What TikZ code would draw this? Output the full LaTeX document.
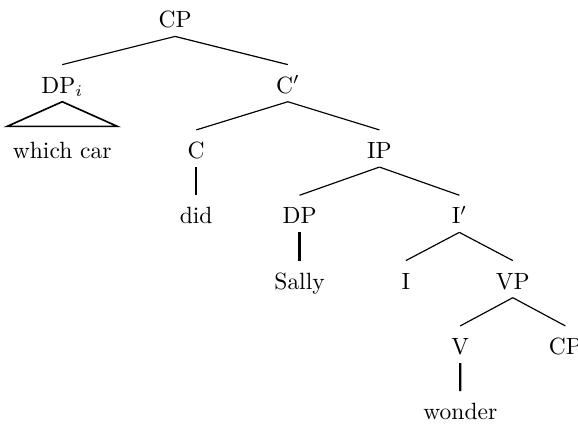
\documentclass[tikz,border=0pt]{standalone}
\tikzset{
	synnode/.style = {inner sep=0pt, text height=7pt, text depth=2pt,
		font=\rmfamily},% category or word
	roof/.style = {edge from parent path={([yshift=-1.4pt]\tikzparentnode.south)
		-- ([shift={(-2.3pt,6.5pt)}]\tikzchildnode.north west)
		-- ([shift={(2.3pt,6.5pt)}]\tikzchildnode.north east) -- cycle},
		edge from parent/.append style={line width=0.7pt}},% triangle over a phrase
	unary/.style = {edge from parent/.append style={line width=1pt}}% word under its head
}

\begin{document}
\begin{tikzpicture}[every node/.style={synnode}, level distance=27.8pt,
		edge from parent/.style={draw, line width=0.5pt},
		edge from parent path={([yshift=-1.4pt]\tikzparentnode.south)
			-- ([yshift=5pt]\tikzchildnode.north)},
		level 1/.style={sibling distance=96pt},
		level 2/.style={sibling distance=78pt},
		level 3/.style={sibling distance=68pt},
		level 4/.style={sibling distance=45.5pt},
		level 5/.style={sibling distance=44.7pt}]
	\useasboundingbox (0,0) rectangle (246pt,-181.7pt);
	\node (cp) at (74.5pt,-9.4pt) {CP}
	child{node (dpi) {DP$_i$}
		child[roof]{node (whichcar) {which car}}
	}
	child{node (cbar) {C$'$}
		child{node (c) {C}
			child[unary]{node (did) {did}}
		}
		child{node (ip) {IP}
			child{node (dp) {DP}
				child[unary]{node (sally) {Sally}}
			}
			child{node (ibar) {I$'$}
				child{node (i) {I}}
				child{node (vp) {VP}
					child{node (v) {V}
						child[unary]{node (wonder) {wonder}}
					}
					child{node (cplow) {CP}}
				}
			}
		}
	};
\end{tikzpicture}
\end{document}
